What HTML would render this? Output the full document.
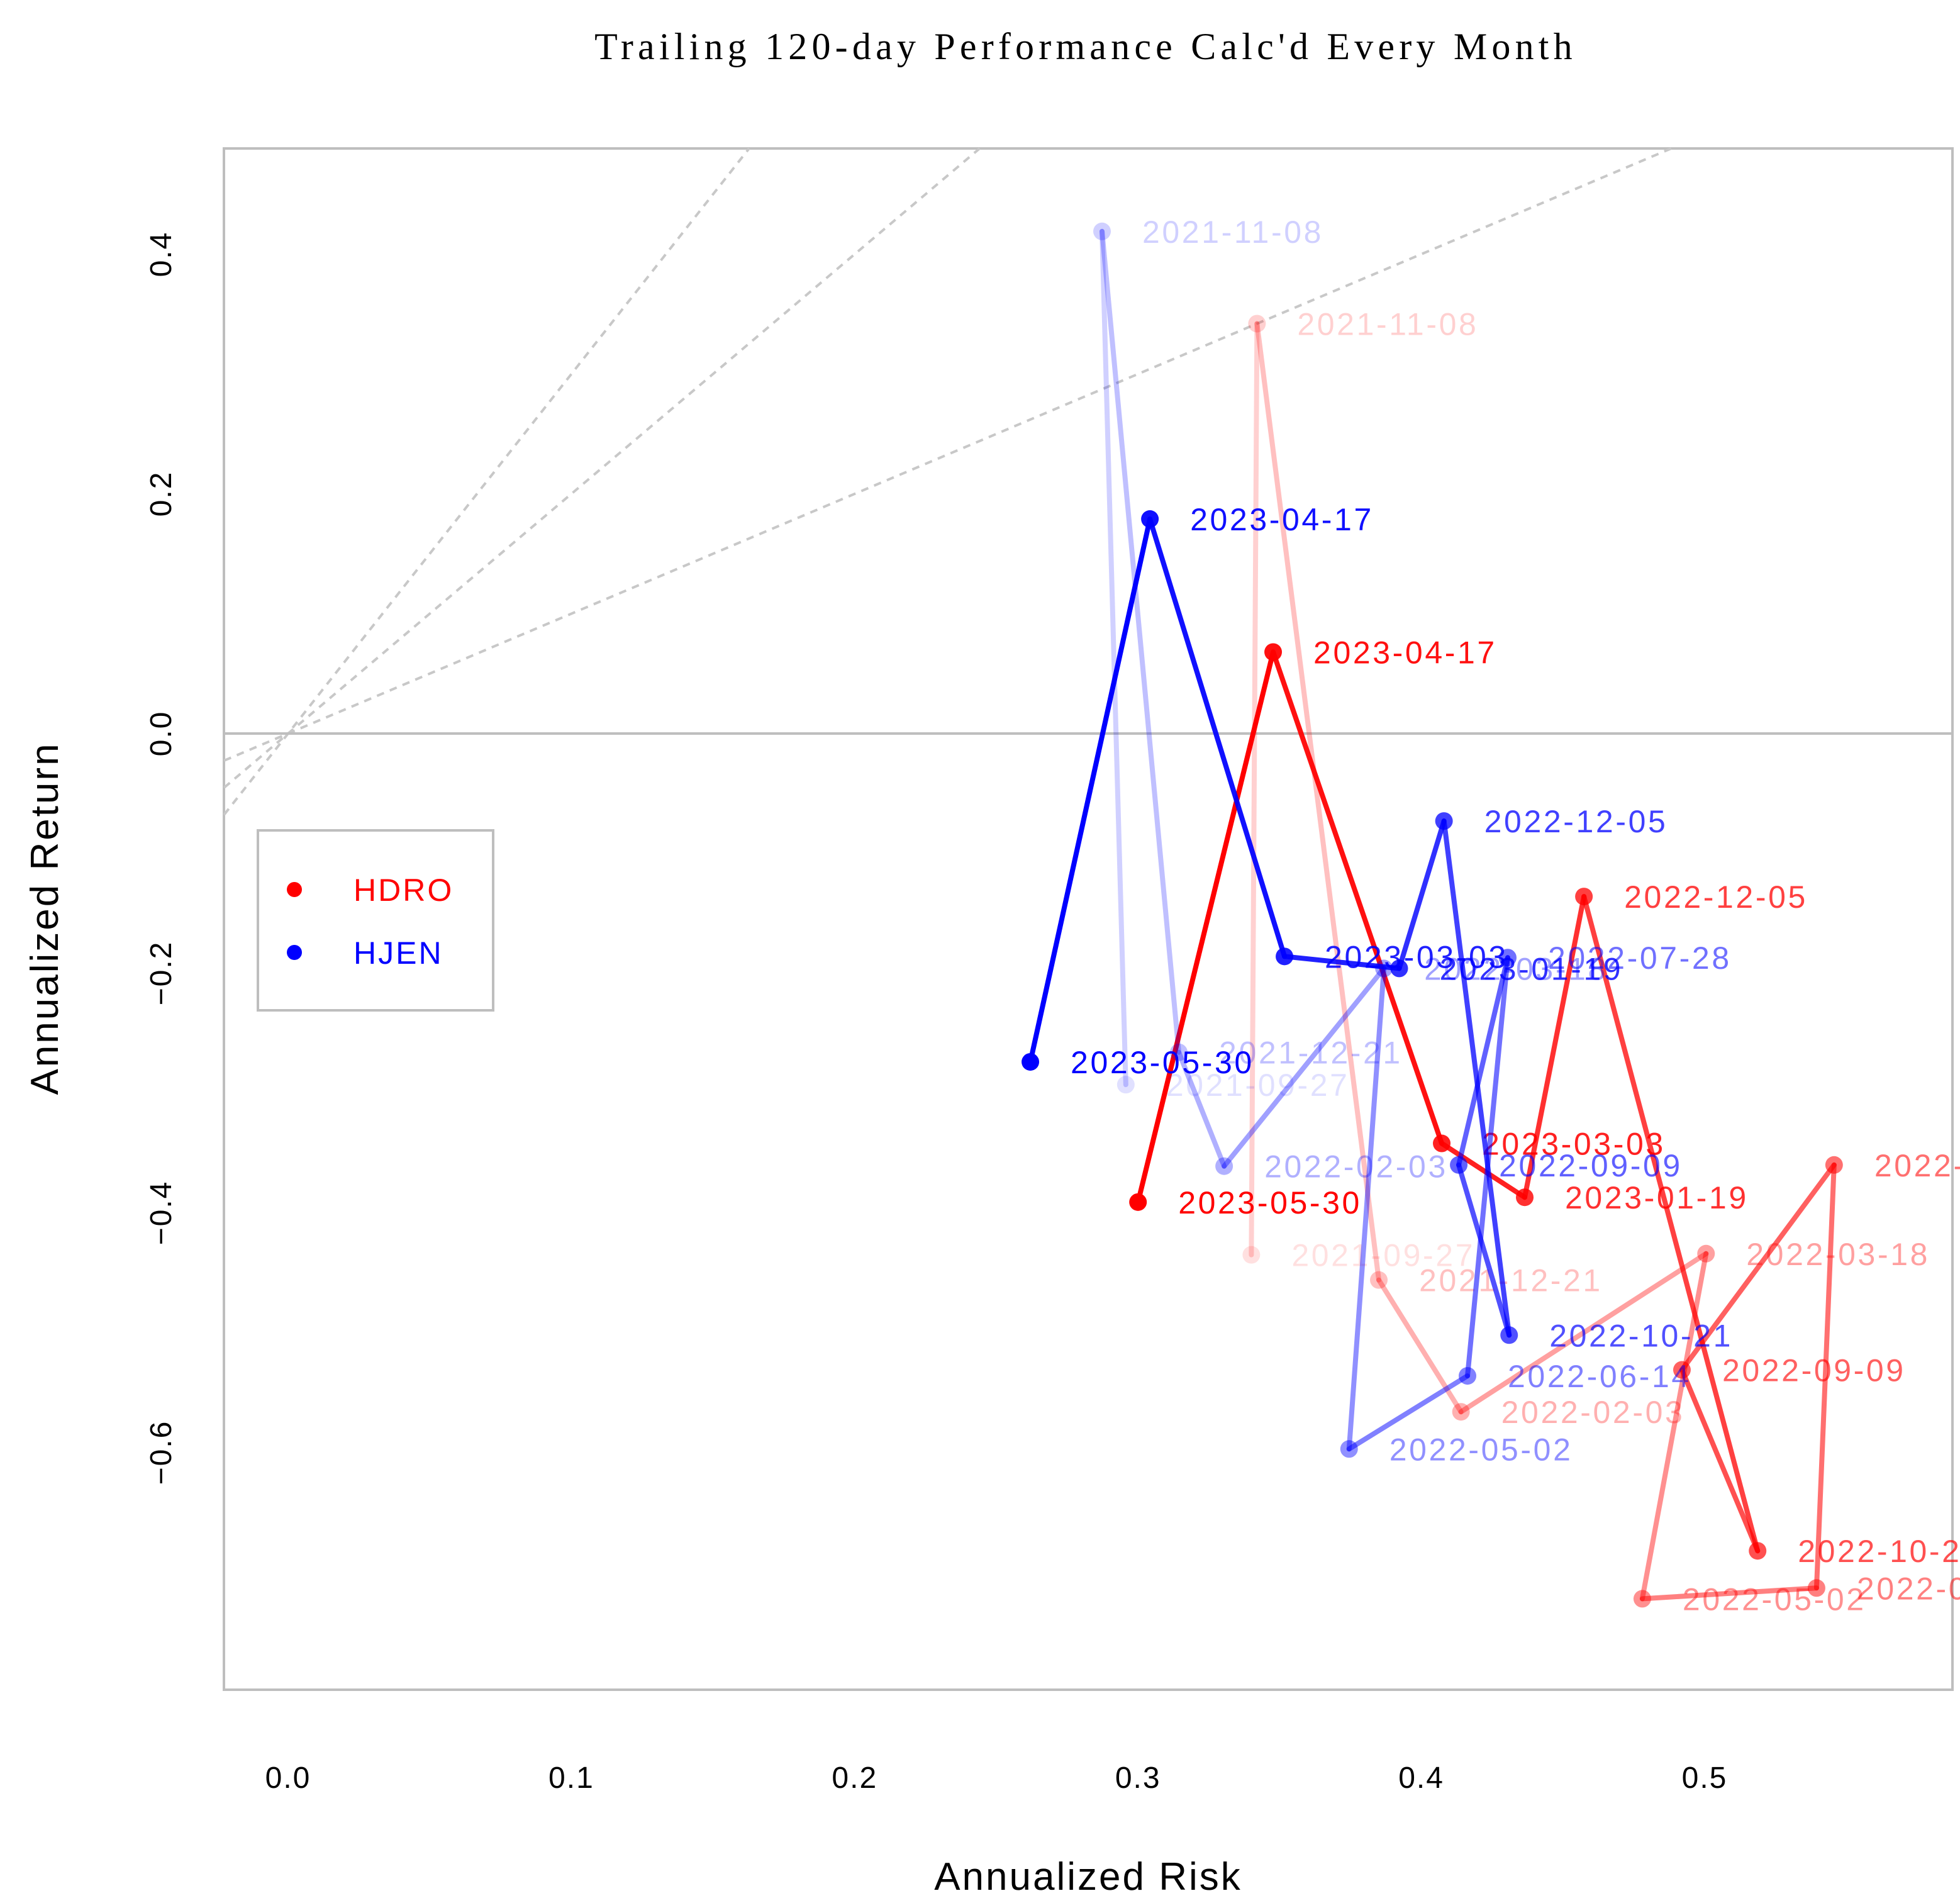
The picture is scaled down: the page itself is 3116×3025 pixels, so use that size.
<!DOCTYPE html>
<html><head><meta charset="utf-8"><style>html,body{margin:0;padding:0;background:#fff}</style></head>
<body>
<svg id="chart" width="3116" height="3020" viewBox="0 0 1558 1510" xmlns="http://www.w3.org/2000/svg" font-family="Liberation Sans, Arial, sans-serif">
<rect width="1558" height="1510" fill="#fff"/>
<text x="863" y="47" text-anchor="middle" font-family="Liberation Serif, serif" font-size="30" letter-spacing="3.6">Trailing 120-day Performance Calc'd Every Month</text>
<rect x="178" y="118" width="1374" height="1225" fill="none" stroke="#bebebe" stroke-width="2"/>
<g id="grid"></g>
<g id="axes"></g>
<g id="series"></g>
<text x="865" y="1502" text-anchor="middle" font-size="31" letter-spacing="1.5">Annualized Risk</text>
<text transform="translate(46,730) rotate(-90)" text-anchor="middle" font-size="31" letter-spacing="1.5">Annualized Return</text>
<g>
<rect x="205" y="660" width="187" height="143" fill="#fff" stroke="#bebebe" stroke-width="2"/>
<circle cx="234" cy="707" r="6" fill="#ff0000"/>
<text x="281" y="716" font-size="25" letter-spacing="1.5" fill="#ff0000">HDRO</text>
<circle cx="234" cy="757" r="6" fill="#0000ff"/>
<text x="281" y="766" font-size="25" letter-spacing="1.5" fill="#0000ff">HJEN</text>
</g>
</svg>
<script>
const dates = ["2021-09-27","2021-11-08","2021-12-21","2022-02-03","2022-03-18","2022-05-02","2022-06-14","2022-07-28","2022-09-09","2022-10-21","2022-12-05","2023-01-19","2023-03-03","2023-04-17","2023-05-30"];
const hdroRisk = [0.340,0.342,0.385,0.414,0.5005,0.478,0.5395,0.5457,0.492,0.5187,0.4574,0.4365,0.4072,0.3477,0.300];
const hdroRet = [-0.435,0.342,-0.456,-0.566,-0.434,-0.722,-0.713,-0.360,-0.531,-0.682,-0.136,-0.387,-0.342,0.068,-0.391];
const hjenRisk = [0.2957,0.2873,0.3144,0.3304,0.3868,0.3745,0.4163,0.4305,0.4132,0.4310,0.4080,0.3922,0.3517,0.3042,0.2620];
const hjenRet = [-0.293,0.419,-0.266,-0.361,-0.196,-0.597,-0.536,-0.187,-0.360,-0.502,-0.073,-0.196,-0.186,0.179,-0.274];
const xTicks = [0,0.1,0.2,0.3,0.4,0.5];
const yTicks = [-0.6,-0.4,-0.2,0,0.2,0.4];
const slopes = [1,2,3];

const NS="http://www.w3.org/2000/svg";
const X = v => 229 + v*2252;
const Y = v => 583 - v*952.5;
function mk(tag, attrs, parent){const e=document.createElementNS(NS,tag);for(const k in attrs)e.setAttribute(k,attrs[k]);parent.appendChild(e);return e;}
const grid=document.getElementById('grid'), axes=document.getElementById('axes'), series=document.getElementById('series');

slopes.forEach(s=>{
  const x0=-0.0226, x1=Math.min(0.585, 0.4882/s);
  const l=mk('line',{x1:X(x0),y1:Y(s*x0),x2:X(x1),y2:Y(s*x1),stroke:'#c8c8c8','stroke-width':2,'stroke-dasharray':'6,5'},grid);
  
  
});
const zl=mk('line',{x1:178,y1:Y(0),x2:1552,y2:Y(0),stroke:'#bebebe','stroke-width':2},grid);



xTicks.forEach(t=>{
  const e=mk('text',{x:X(t),y:1421,'text-anchor':'middle','font-size':24,'letter-spacing':1},axes);
  e.textContent=t.toFixed(1);
  
  
});
yTicks.forEach(t=>{
  const e=mk('text',{transform:`translate(136,${Y(t)}) rotate(-90)`,'text-anchor':'middle','font-size':24,'letter-spacing':1},axes);
  e.textContent=(t<0?'\u2212':'')+Math.abs(t).toFixed(1);
  
  
});

function drawSeries(name, risk, ret, rgb){
  const n=risk.length;
  const g=mk('g',{},series);
  
  
  const a=i=>0.12+0.88*i/(n-1);
  for(let i=1;i<n;i++){
    const l=mk('line',{x1:X(risk[i-1]),y1:Y(ret[i-1]),x2:X(risk[i]),y2:Y(ret[i]),stroke:`rgba(${rgb},${a(i)})`,'stroke-width':4,'stroke-linecap':'round'},g);
    
    
  }
  for(let i=0;i<n;i++){
    const c=mk('circle',{cx:X(risk[i]),cy:Y(ret[i]),r:7,fill:`rgba(${rgb},${a(i)})`},g);
    
    
    const t=mk('text',{x:X(risk[i])+32,y:Y(ret[i])+9,'font-size':25,'letter-spacing':1.8,fill:`rgba(${rgb},${a(i)})`},g);
    t.textContent=dates[i];
    
    
  }
}
drawSeries('hdro',hdroRisk,hdroRet,'255,0,0');
drawSeries('hjen',hjenRisk,hjenRet,'0,0,255');
</script>
</body></html>
